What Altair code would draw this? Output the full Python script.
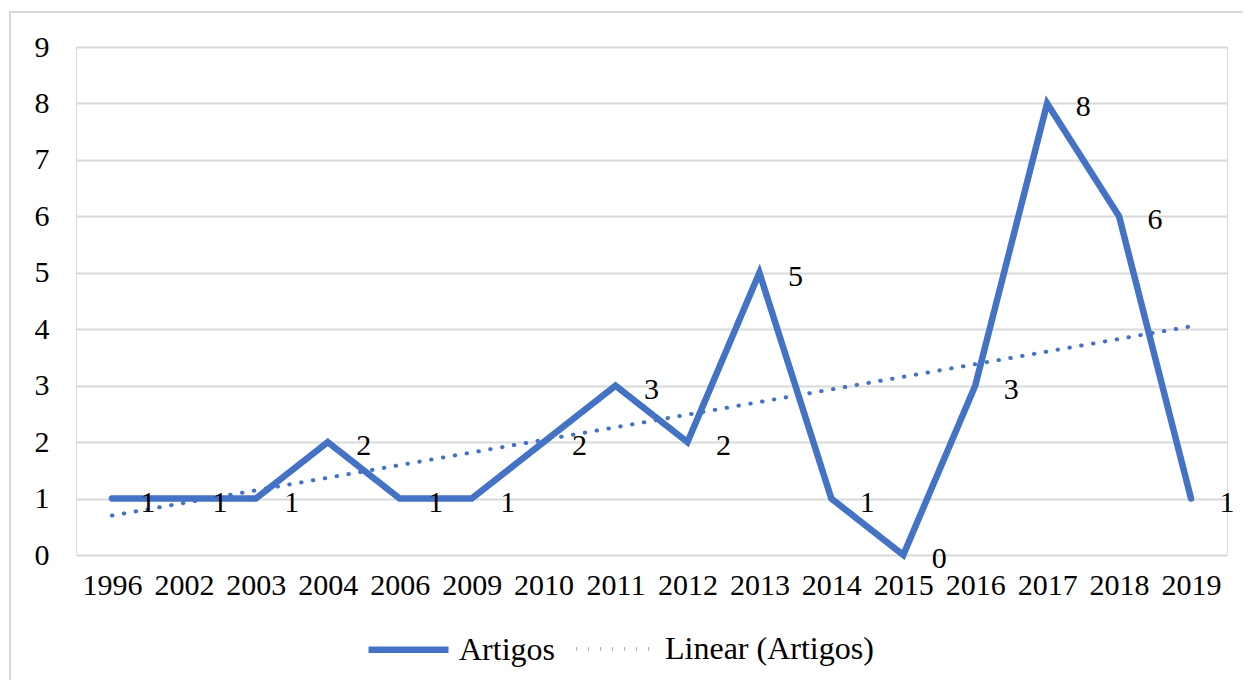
import altair as alt
import pandas as pd

years = ["1996", "2002", "2003", "2004", "2006", "2009", "2010", "2011",
         "2012", "2013", "2014", "2015", "2016", "2017", "2018", "2019"]
artigos = [1, 1, 1, 2, 1, 1, 2, 3, 2, 5, 1, 0, 3, 8, 6, 1]

df = pd.DataFrame({"i": list(range(len(years))), "year": years, "v": artigos})

BLUE = "#4472C4"
FONT = "Liberation Serif"
FS = 30
LFS = 32

label_expr = "[" + ",".join(f"'{y}'" for y in years) + "][datum.value]"

x = alt.X("i:Q", scale=alt.Scale(domain=[-0.5, len(years) - 0.5], nice=False, zero=False),
          axis=alt.Axis(values=list(range(len(years))), labelExpr=label_expr, title=None,
                        grid=False, domain=False, ticks=False, labelPadding=15,
                        labelFont=FONT, labelFontSize=FS, labelColor="#000"))
y = alt.Y("v:Q", scale=alt.Scale(domain=[0, 9], nice=False),
          axis=alt.Axis(values=list(range(10)), format="d", title=None, domain=False, ticks=False,
                        gridColor="#d9d9d9", gridWidth=2, labelPadding=27,
                        labelFont=FONT, labelFontSize=FS, labelColor="#000"))

series_scale = alt.Scale(domain=["Artigos", "Linear (Artigos)"], range=[[1, 0], [0.5, 11.5]])
width_scale = alt.Scale(domain=["Artigos", "Linear (Artigos)"], range=[6.5, 4])

legend = alt.Legend(title=None, orient="none", direction="horizontal", legendX=289, legendY=559,
                    symbolType="stroke", symbolSize=6400, symbolStrokeColor=BLUE,
                    labelFont=FONT, labelFontSize=LFS, labelColor="#000", labelOffset=7,
                    columnPadding=13, labelLimit=400)

base = alt.Chart(df)

main = base.transform_calculate(series="'Artigos'").mark_line(
    color=BLUE, strokeCap="round").encode(
    x=x, y=y,
    strokeDash=alt.StrokeDash("series:N", scale=series_scale, legend=legend),
    strokeWidth=alt.StrokeWidth("series:N", scale=width_scale, legend=legend),
)

trend = base.transform_regression("i", "v", method="linear").transform_calculate(
    series="'Linear (Artigos)'").mark_line(color=BLUE, strokeCap="round").encode(
    x="i:Q", y="v:Q",
    strokeDash=alt.StrokeDash("series:N", scale=series_scale, legend=legend),
    strokeWidth=alt.StrokeWidth("series:N", scale=width_scale, legend=legend),
)

labels = base.mark_text(font=FONT, fontSize=FS, color="#000", dx=36, dy=4,
                        align="center", baseline="middle").encode(
    x="i:Q", y="v:Q", text="v:Q")

border = alt.Chart(pd.DataFrame({"a": [0]})).mark_rect(
    fill=None, stroke="#d9d9d9", strokeWidth=2, clip=False).encode(
    x=alt.value(-66), x2=alt.value(1300), y=alt.value(-35), y2=alt.value(700))

chart = alt.layer(border, main, trend, labels).properties(
    width=1151, height=508,
    autosize=alt.AutoSizeParams(type="none"),
    padding={"left": 68, "top": 39, "right": 16, "bottom": 125},
).configure_view(stroke=None).configure(background="white")

chart.save("out.html", embed_options={"renderer": "svg", "actions": False})
